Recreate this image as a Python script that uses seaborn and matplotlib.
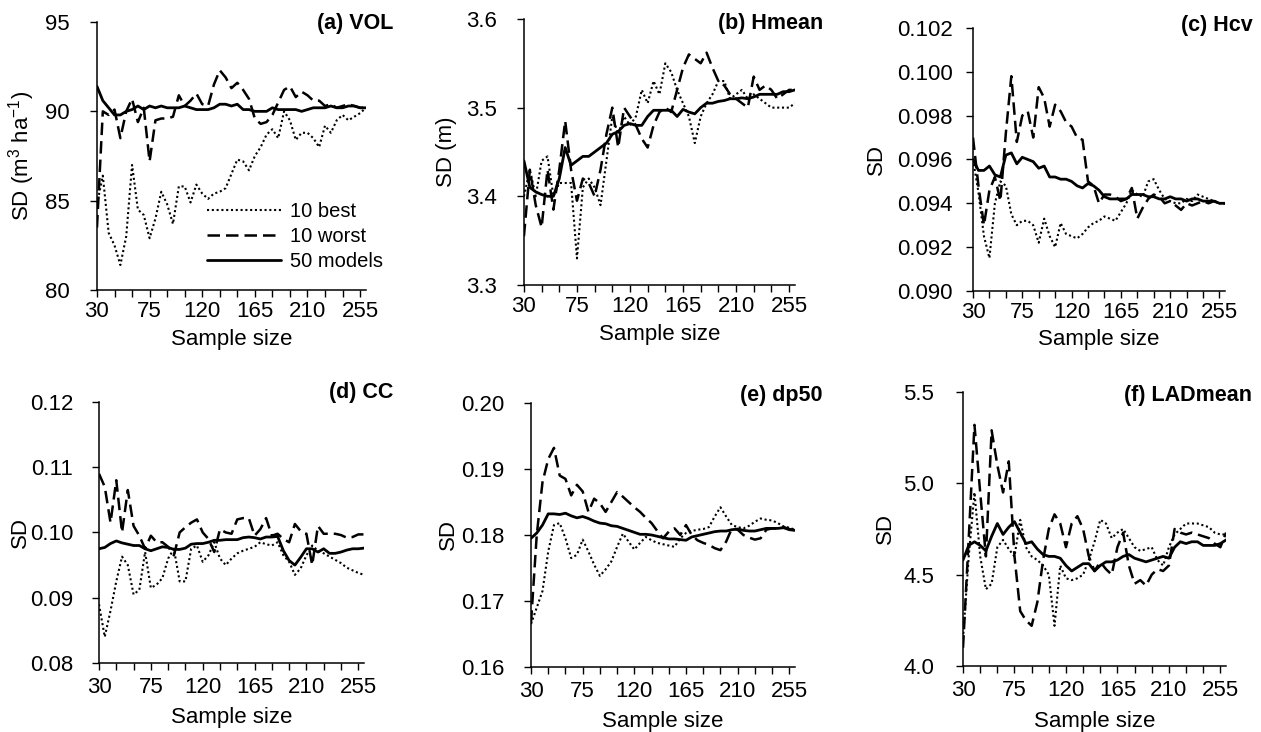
import matplotlib
matplotlib.use("Agg")
import matplotlib.pyplot as plt
import numpy as np
import pandas as pd
import seaborn as sns

## Data
sample_size = list(range(30, 261, 5))
x_tick_labels = [30, 75, 120, 165, 210, 255]
series_names = ["10 best", "10 worst", "50 models"]

vol_best = [84.8, 86.4, 83.2, 82.5, 81.4, 83.0, 87.0, 84.5, 84.2, 82.9,
            84.0, 85.5, 84.8, 83.7, 85.8, 85.8, 84.9, 85.9, 85.4, 85.1,
            85.4, 85.5, 85.7, 86.5, 87.3, 87.2, 86.7, 87.5, 88.0, 88.7,
            89.0, 88.5, 90.0, 89.5, 88.4, 88.8, 88.8, 88.5, 88.0, 89.2,
            88.8, 89.5, 89.8, 89.5, 89.7, 89.9, 90.2]
vol_worst = [83.5, 90.0, 89.8, 90.1, 88.5, 90.0, 90.7, 89.4, 90.2, 87.2,
             89.5, 89.6, 89.6, 89.7, 90.9, 90.3, 90.6, 91.0, 90.4, 90.3,
             91.5, 92.3, 91.9, 91.3, 91.6, 91.2, 90.7, 89.6, 89.3, 89.4,
             89.8, 90.5, 91.2, 91.4, 90.8, 91.1, 90.9, 90.6, 90.6, 90.3,
             90.4, 90.2, 90.3, 90.4, 90.3, 90.2, 90.2]
vol_all = [91.4, 90.6, 90.2, 89.8, 89.8, 90.0, 90.1, 90.3, 90.1, 90.3,
           90.2, 90.3, 90.2, 90.2, 90.2, 90.3, 90.2, 90.1, 90.1, 90.1,
           90.2, 90.4, 90.4, 90.3, 90.4, 90.1, 90.1, 90.0, 90.0, 90.0,
           90.2, 90.1, 90.1, 90.1, 90.1, 90.0, 90.1, 90.2, 90.2, 90.2,
           90.3, 90.2, 90.2, 90.3, 90.3, 90.2, 90.2]

hmean_best = [3.40, 3.43, 3.40, 3.44, 3.445, 3.40, 3.415, 3.415, 3.415, 3.33,
              3.41, 3.42, 3.41, 3.39, 3.44, 3.49, 3.47, 3.49, 3.48, 3.49,
              3.52, 3.505, 3.53, 3.515, 3.55, 3.54, 3.52, 3.505, 3.49, 3.46,
              3.49, 3.505, 3.515, 3.53, 3.53, 3.51, 3.515, 3.52, 3.51, 3.515,
              3.51, 3.505, 3.50, 3.50, 3.50, 3.50, 3.505]
hmean_worst = [3.355, 3.43, 3.39, 3.365, 3.43, 3.385, 3.43, 3.485, 3.43, 3.395,
               3.42, 3.415, 3.40, 3.43, 3.47, 3.50, 3.455, 3.50, 3.49, 3.48,
               3.465, 3.455, 3.48, 3.495, 3.50, 3.495, 3.52, 3.545, 3.56, 3.555,
               3.55, 3.562, 3.545, 3.53, 3.525, 3.515, 3.51, 3.505, 3.50, 3.535,
               3.52, 3.525, 3.52, 3.51, 3.515, 3.52, 3.52]
hmean_all = [3.44, 3.41, 3.405, 3.402, 3.40, 3.40, 3.42, 3.455, 3.435, 3.44,
             3.445, 3.445, 3.45, 3.455, 3.46, 3.47, 3.473, 3.48, 3.482, 3.48,
             3.48, 3.49, 3.497, 3.497, 3.497, 3.497, 3.49, 3.498, 3.495, 3.493,
             3.50, 3.505, 3.505, 3.507, 3.508, 3.51, 3.51, 3.511, 3.51, 3.512,
             3.515, 3.515, 3.515, 3.515, 3.518, 3.518, 3.52]

hcv_best = [0.0960, 0.0945, 0.0925, 0.0915, 0.0940, 0.0950, 0.0948, 0.0935, 0.0930, 0.0932,
            0.0932, 0.0930, 0.0922, 0.0933, 0.0925, 0.0920, 0.0931, 0.0926, 0.0925, 0.0924,
            0.0926, 0.0929, 0.0931, 0.0932, 0.0934, 0.0933, 0.0932, 0.0936, 0.0940, 0.0946,
            0.0944, 0.0943, 0.0950, 0.0951, 0.0946, 0.0942, 0.0941, 0.0940, 0.0940, 0.0942,
            0.0941, 0.0944, 0.0943, 0.0942, 0.0941, 0.0940, 0.0940]
hcv_worst = [0.0970, 0.0948, 0.0930, 0.0946, 0.0952, 0.0941, 0.0972, 0.0998, 0.0968, 0.0980,
             0.0982, 0.0970, 0.0993, 0.0988, 0.0975, 0.0985, 0.0982, 0.0977, 0.0975, 0.0970,
             0.0969, 0.0950, 0.0948, 0.0940, 0.0944, 0.0944, 0.0943, 0.0941, 0.0942, 0.0947,
             0.0933, 0.0938, 0.0942, 0.0944, 0.0943, 0.0940, 0.0941, 0.0939, 0.0937, 0.0940,
             0.0939, 0.0940, 0.0941, 0.0940, 0.0941, 0.0940, 0.0940]
hcv_all = [0.0960, 0.0955, 0.0955, 0.0957, 0.0953, 0.0952, 0.0962, 0.0963, 0.0958, 0.0961,
           0.0960, 0.0959, 0.0956, 0.0957, 0.0952, 0.0952, 0.0951, 0.0951, 0.0950, 0.0948,
           0.0947, 0.0949, 0.0948, 0.0946, 0.0943, 0.0942, 0.0942, 0.0942, 0.0942, 0.0944,
           0.0944, 0.0944, 0.0943, 0.0943, 0.0942, 0.0942, 0.0943, 0.0942, 0.0942, 0.0941,
           0.0942, 0.0942, 0.0941, 0.0941, 0.0941, 0.0940, 0.0940]

cc_best = [0.0890, 0.0840, 0.0880, 0.0925, 0.0963, 0.0950, 0.0905, 0.0912, 0.0970, 0.0915,
           0.0920, 0.0930, 0.0960, 0.0975, 0.0925, 0.0925, 0.0975, 0.0980, 0.0955, 0.0965,
           0.0985, 0.0960, 0.0950, 0.0960, 0.0968, 0.0972, 0.0975, 0.0978, 0.0985, 0.0982,
           0.0980, 0.0985, 0.0965, 0.0955, 0.0935, 0.0945, 0.0965, 0.0980, 0.0972, 0.0968,
           0.0963, 0.0958, 0.0953, 0.0946, 0.0942, 0.0938, 0.0935]
cc_worst = [0.1090, 0.1070, 0.1015, 0.1080, 0.1000, 0.1065, 0.1010, 0.0995, 0.0975, 0.0995,
            0.0985, 0.0985, 0.0978, 0.0965, 0.1000, 0.1008, 0.1015, 0.1020, 0.1000, 0.0990,
            0.0970, 0.1005, 0.1000, 0.0998, 0.1020, 0.1022, 0.1022, 0.0995, 0.1005, 0.1022,
            0.0995, 0.0998, 0.0990, 0.0985, 0.1013, 0.1002, 0.0998, 0.0950, 0.1010, 0.0998,
            0.0998, 0.0998, 0.0996, 0.0992, 0.0993, 0.0997, 0.0997]
cc_all = [0.0975, 0.0977, 0.0983, 0.0987, 0.0984, 0.0982, 0.0980, 0.0980, 0.0975, 0.0972,
          0.0975, 0.0978, 0.0977, 0.0974, 0.0974, 0.0976, 0.0982, 0.0983, 0.0983, 0.0985,
          0.0988, 0.0988, 0.0989, 0.0989, 0.0989, 0.0992, 0.0993, 0.0992, 0.0990, 0.0993,
          0.0993, 0.0994, 0.0972, 0.0957, 0.0950, 0.0962, 0.0975, 0.0975, 0.0970, 0.0975,
          0.0968, 0.0968, 0.0970, 0.0973, 0.0975, 0.0975, 0.0976]

dp50_best = [0.1665, 0.1690, 0.1715, 0.1775, 0.1815, 0.1818, 0.1795, 0.1765, 0.1770, 0.1793,
             0.1775, 0.1755, 0.1738, 0.1748, 0.1760, 0.1782, 0.1802, 0.1790, 0.1778, 0.1788,
             0.1797, 0.1792, 0.1788, 0.1786, 0.1784, 0.1782, 0.1795, 0.1803, 0.1806, 0.1808,
             0.1809, 0.1812, 0.1828, 0.1842, 0.1828, 0.1815, 0.1812, 0.1810, 0.1814, 0.1820,
             0.1825, 0.1823, 0.1822, 0.1818, 0.1813, 0.1811, 0.1808]
dp50_worst = [0.1667, 0.1800, 0.1880, 0.1915, 0.1932, 0.1890, 0.1885, 0.1860, 0.1876, 0.1866,
              0.1835, 0.1855, 0.1848, 0.1835, 0.1850, 0.1865, 0.1858, 0.1850, 0.1842, 0.1835,
              0.1826, 0.1818, 0.1806, 0.1795, 0.1805, 0.1810, 0.1800, 0.1815, 0.1800, 0.1792,
              0.1788, 0.1785, 0.1780, 0.1777, 0.1790, 0.1810, 0.1808, 0.1800, 0.1796, 0.1793,
              0.1795, 0.1808, 0.1810, 0.1810, 0.1812, 0.1809, 0.1807]
dp50_all = [0.1795, 0.1803, 0.1815, 0.1832, 0.1832, 0.1831, 0.1833, 0.1829, 0.1826, 0.1828,
            0.1825, 0.1821, 0.1818, 0.1817, 0.1814, 0.1813, 0.1810, 0.1807, 0.1804, 0.1801,
            0.1801, 0.1800, 0.1798, 0.1796, 0.1794, 0.1794, 0.1793, 0.1792, 0.1797, 0.1799,
            0.1801, 0.1803, 0.1805, 0.1806, 0.1806, 0.1808, 0.1809, 0.1807, 0.1806, 0.1806,
            0.1808, 0.1810, 0.1810, 0.1810, 0.1811, 0.1808, 0.1807]

lad_best = [4.15, 4.60, 4.95, 4.60, 4.42, 4.45, 4.65, 4.69, 4.64, 4.60,
            4.80, 4.65, 4.60, 4.58, 4.55, 4.50, 4.22, 4.55, 4.48, 4.47,
            4.48, 4.50, 4.58, 4.68, 4.80, 4.78, 4.70, 4.73, 4.75, 4.70,
            4.65, 4.63, 4.64, 4.65, 4.58, 4.55, 4.65, 4.72, 4.75, 4.78,
            4.78, 4.78, 4.77, 4.76, 4.73, 4.72, 4.72]
lad_worst = [4.10, 4.70, 5.32, 4.95, 4.60, 5.29, 5.10, 4.95, 5.12, 4.60,
             4.30, 4.25, 4.22, 4.35, 4.58, 4.75, 4.83, 4.78, 4.65, 4.78,
             4.82, 4.75, 4.60, 4.52, 4.57, 4.53, 4.50, 4.65, 4.73, 4.55,
             4.45, 4.47, 4.44, 4.50, 4.53, 4.52, 4.55, 4.75, 4.73, 4.72,
             4.73, 4.72, 4.71, 4.70, 4.67, 4.65, 4.73]
lad_all = [4.58, 4.66, 4.68, 4.66, 4.63, 4.71, 4.78, 4.72, 4.76, 4.79,
           4.73, 4.67, 4.68, 4.64, 4.61, 4.60, 4.60, 4.59, 4.55, 4.52,
           4.54, 4.56, 4.56, 4.52, 4.55, 4.57, 4.57, 4.58, 4.60, 4.61,
           4.59, 4.58, 4.57, 4.58, 4.59, 4.60, 4.59, 4.65, 4.68, 4.67,
           4.68, 4.68, 4.66, 4.66, 4.66, 4.67, 4.69]

## Style
sns.set_theme(style="ticks")
plt.rcParams["font.family"] = ["Liberation Sans", "DejaVu Sans"]
plt.rcParams["mathtext.fontset"] = "custom"
plt.rcParams["mathtext.rm"] = "Liberation Sans"
plt.rcParams["mathtext.it"] = "Liberation Sans:italic"
for key in ["text.color", "axes.labelcolor", "xtick.color", "ytick.color", "axes.edgecolor"]:
    plt.rcParams[key] = "black"

TICK_FS = 16
LABEL_FS = 16
TITLE_FS = 15.5
LEGEND_FS = 14.5
line_styles = {
    "10 best": dict(linestyle=(0, (1, 1.3)), linewidth=1.5),
    "10 worst": dict(linestyle=(0, (5, 2.4)), linewidth=1.8),
    "50 models": dict(linestyle="-", linewidth=2.0),
}

panels = [
    dict(title="(a) VOL", data=[vol_best, vol_worst, vol_all], ylim=(80, 95), step=5, fmt="{:.0f}",
         ylabel="SD (m$^3$ ha$^{-1}$)", rect=[0.0769, 0.6038, 0.2133, 0.3661], ypad=14.4, xpad=3,
         ylab_x=-0.223, xlab_y=-0.145, title_xy=(393, 23)),
    dict(title="(b) Hmean", data=[hmean_best, hmean_worst, hmean_all], ylim=(3.3, 3.6), step=0.1, fmt="{:.1f}",
         ylabel="SD (m)", rect=[0.4155, 0.6107, 0.2149, 0.3634], ypad=14.4, xpad=3,
         ylab_x=-0.247, xlab_y=-0.147, title_xy=(823, 23)),
    dict(title="(c) Hcv", data=[hcv_best, hcv_worst, hcv_all], ylim=(0.090, 0.102), step=0.002, fmt="{:.3f}",
         ylabel="SD", rect=[0.7716, 0.6025, 0.1998, 0.3593], ypad=9.4, xpad=3,
         ylab_x=-0.34, xlab_y=-0.146, title_xy=(1253, 25)),
    dict(title="(d) CC", data=[cc_best, cc_worst, cc_all], ylim=(0.08, 0.12), step=0.01, fmt="{:.2f}",
         ylabel="SD", rect=[0.0785, 0.0943, 0.2102, 0.3566], ypad=13.7, xpad=5,
         ylab_x=-0.257, xlab_y=-0.168, title_xy=(393, 392)),
    dict(title="(e) dp50", data=[dp50_best, dp50_worst, dp50_all], ylim=(0.16, 0.20), step=0.01, fmt="{:.2f}",
         ylabel="SD", rect=[0.4211, 0.0888, 0.2094, 0.3607], ypad=14.4, xpad=5,
         ylab_x=-0.273, xlab_y=-0.166, title_xy=(823, 395)),
    dict(title="(f) LADmean", data=[lad_best, lad_worst, lad_all], ylim=(4.0, 5.5), step=0.5, fmt="{:.1f}",
         ylabel="SD", rect=[0.7637, 0.0902, 0.2086, 0.3743], ypad=15.8, xpad=5,
         ylab_x=-0.255, xlab_y=-0.163, title_xy=(1252, 395)),
]

W, H = 1261, 732
fig = plt.figure(figsize=(W / 100, H / 100), dpi=100)

for i, p in enumerate(panels):
    ax = fig.add_axes(p["rect"])
    df = pd.DataFrame({
        "Sample size": sample_size * 3,
        "SD": sum(p["data"], []),
        "series": np.repeat(series_names, len(sample_size)),
    })
    for name in series_names:
        sns.lineplot(data=df[df["series"] == name], x="Sample size", y="SD", ax=ax,
                     color="black", errorbar=None, legend=False, **line_styles[name])

    ax.set_xlim(30, 260)
    ax.set_xticks(x_tick_labels)
    ax.set_xticks(range(30, 256, 15), minor=True)
    lo, hi = p["ylim"]
    ax.set_ylim(lo, hi)
    yt = np.arange(lo, hi + p["step"] / 2, p["step"])
    ax.set_yticks(yt)
    ax.set_yticklabels([p["fmt"].format(v) for v in yt])
    ax.tick_params(which="both", direction="out", length=5, width=1, labelsize=TICK_FS)
    ax.tick_params(axis="x", which="major", pad=p["xpad"])
    ax.tick_params(axis="y", pad=p["ypad"])
    sns.despine(ax=ax)
    for s in ["left", "bottom"]:
        ax.spines[s].set_linewidth(1.1)

    ax.set_xlabel("Sample size", fontsize=LABEL_FS)
    ax.set_ylabel(p["ylabel"], fontsize=LABEL_FS)
    ax.xaxis.set_label_coords(0.5, p["xlab_y"])
    ax.yaxis.set_label_coords(p["ylab_x"], 0.5)

    tx, ty = p["title_xy"]
    fig.text(tx / W, 1 - ty / H, p["title"], ha="right", va="center",
             fontsize=TITLE_FS, fontweight="bold")

    if i == 0:
        ax.legend(ax.lines[:3], series_names, loc="upper left", bbox_to_anchor=(0.409, 0.33),
                  frameon=False, fontsize=LEGEND_FS, handlelength=3.7, handletextpad=0.4,
                  labelspacing=0.3, borderpad=0, borderaxespad=0)

fig.savefig("out.png", dpi=100)
